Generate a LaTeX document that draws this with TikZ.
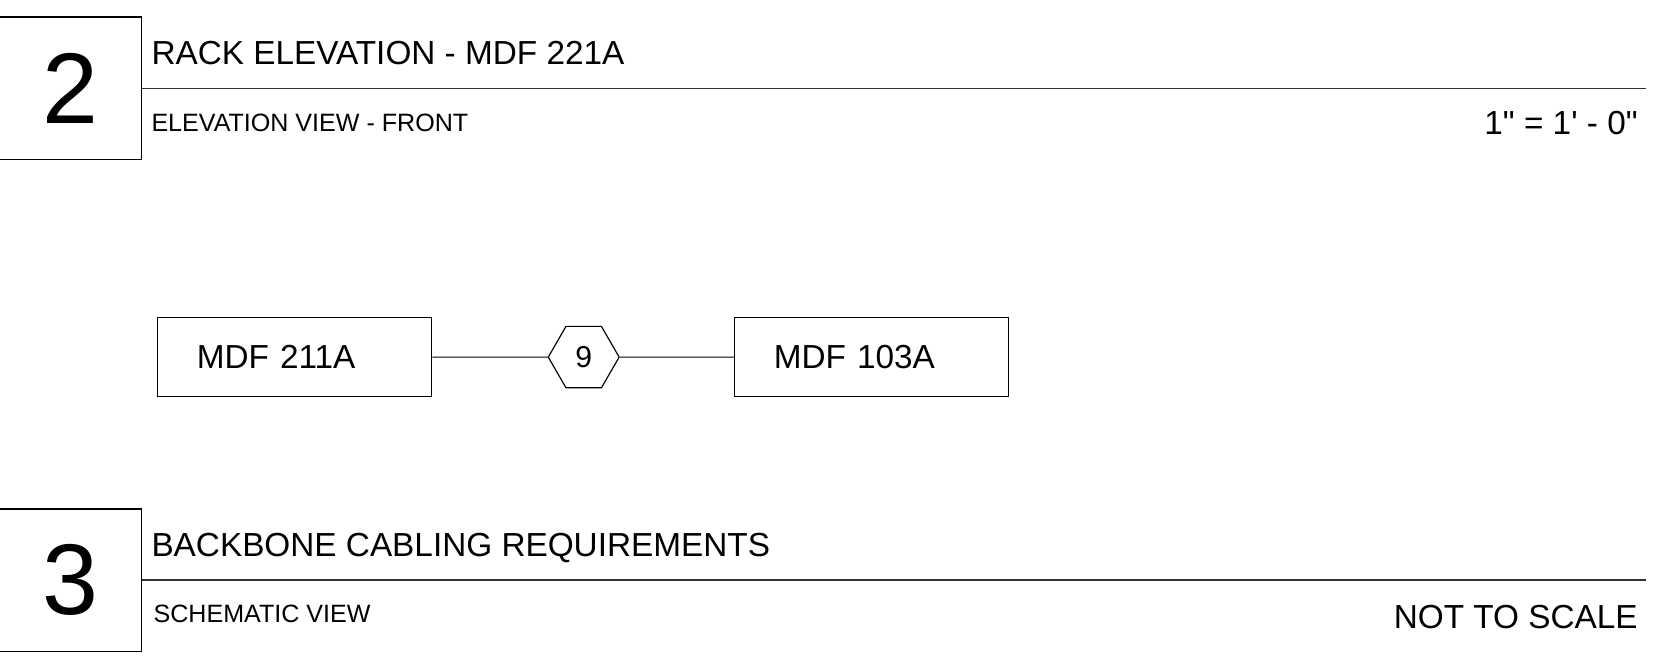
\documentclass[tikz,border=0pt]{standalone}
\usepackage{fontspec}
\setmainfont{Liberation Sans}
\newfontfamily\sheetfont{Liberation Sans}
\usetikzlibrary{positioning}
\usetikzlibrary{shapes.geometric}
\tikzset{
  titlefont/.style = {font=\sheetfont\fontsize{31.5}{36}\selectfont},
  subfont/.style = {font=\sheetfont\fontsize{23.7}{28}\selectfont},
  num_box/.style = {rectangle, draw=black, line width=1.3pt,
    minimum width=135pt, minimum height=135pt, inner sep=0pt,
    font=\sheetfont\fontsize{95}{100}\selectfont},
  title_text/.style = {anchor=base west, inner sep=0pt, titlefont},
  sub_text/.style = {anchor=base west, inner sep=0pt, subfont},
  scale_text/.style = {anchor=base east, inner sep=0pt, titlefont},
  rule_line/.style = {line width=1.6pt, black!80},
  mdf_node/.style = {rectangle, draw=black, line width=1.1pt,
    minimum height=75pt, text width=185pt, inner xsep=37pt,
    inner ysep=0pt, align=left, titlefont},
  cable_node/.style = {regular polygon, regular polygon sides=6,
    draw=black, line width=1.1pt, minimum size=67pt, inner sep=0pt,
    font=\sheetfont\fontsize{28.5}{32}\selectfont},
  cable/.style = {line width=1.1pt}
}

\begin{document}
\begin{tikzpicture}[x=1pt, y=-1pt]
  \useasboundingbox (0,0) rectangle (1568,632.3);

  % detail 2 title block
  \node (num 2) [num_box] at (66.5,83.5) {2};
  \coordinate (rule 2 end) at (1556,83.5);
  \draw [rule_line] (num 2.east) -- (rule 2 end);
  \node (title 2) [title_text] at (143,61) {RACK ELEVATION - MDF 221A};
  \node (view 2) [sub_text] at (143,124) {ELEVATION VIEW - FRONT};
  \node (scale 2) [scale_text] at (1548,127) {1" = 1' - 0"};

  % backbone schematic
  \node (mdf 211a) [mdf_node] at (278.5,337.5) {MDF 211A};
  \node (cable 9) [cable_node, right=109pt of mdf 211a] {9};
  \node (mdf 103a) [mdf_node, right=108pt of cable 9] {MDF 103A};
  \draw [cable] (mdf 211a) -- (cable 9);
  \draw [cable] (cable 9) -- (mdf 103a);

  % detail 3 title block
  \node (num 3) [num_box] at (66.5,548.5) {3};
  \coordinate (rule 3 end) at (1556,548.5);
  \draw [rule_line] (num 3.east) -- (rule 3 end);
  \node (title 3) [title_text] at (143,526) {BACKBONE CABLING REQUIREMENTS};
  \node (view 3) [sub_text] at (145,588) {SCHEMATIC VIEW};
  \node (scale 3) [scale_text] at (1548,594) {NOT TO SCALE};
\end{tikzpicture}
\end{document}
